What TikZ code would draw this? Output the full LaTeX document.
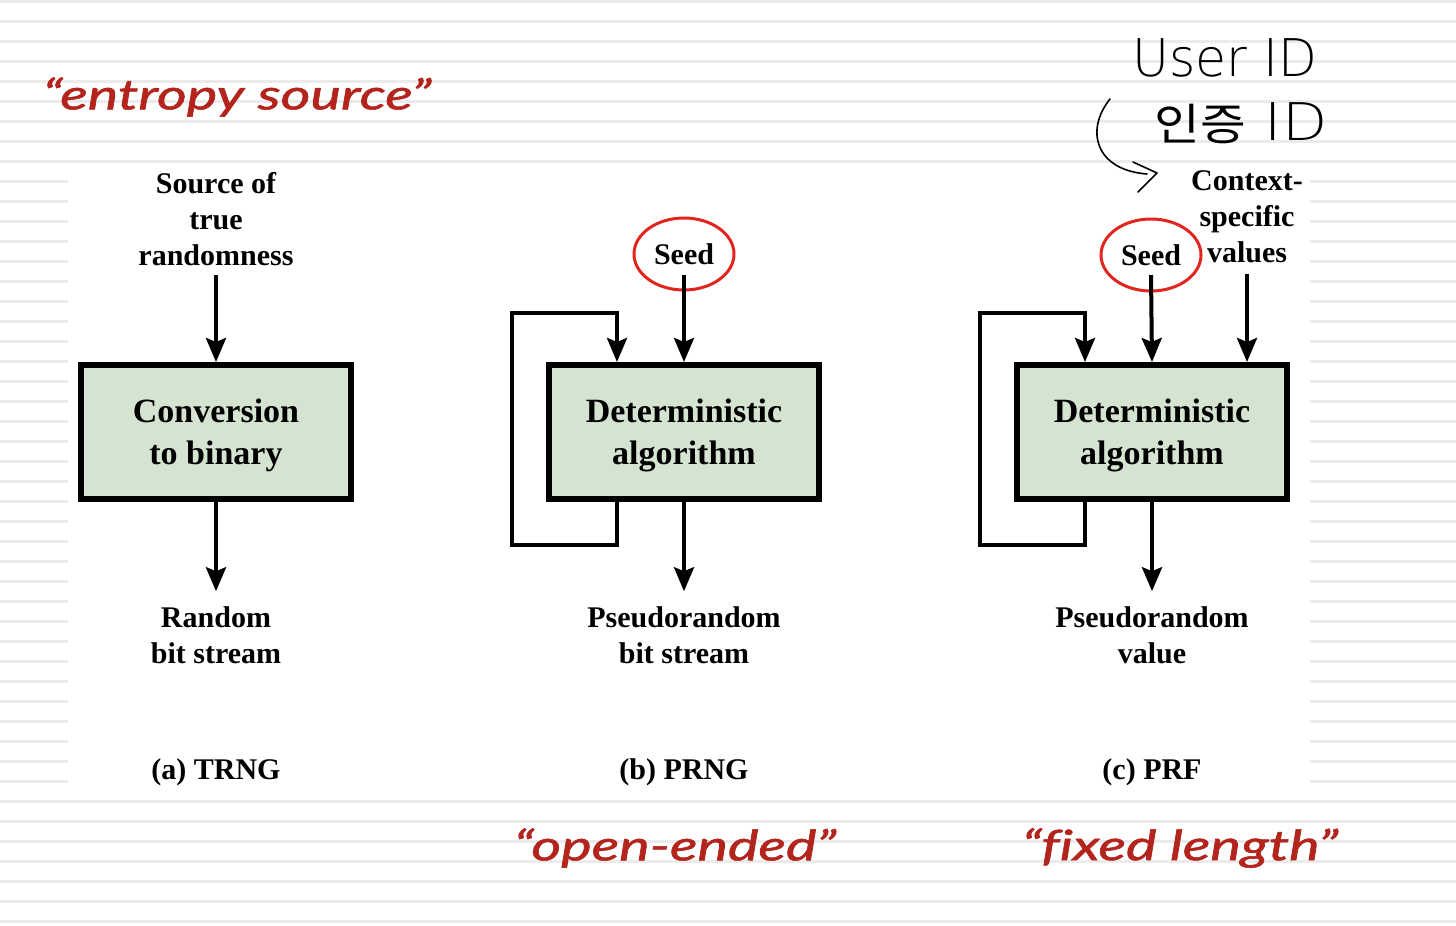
\documentclass[tikz,border=0pt]{standalone}
\usepackage{fontspec}
\setmainfont{Liberation Serif}
\newfontfamily\hand[Ligatures=NoCommon, ItalicFeatures={FakeBold=1.2}]{Lato}
\newfontfamily\kr{Noto Sans CJK KR}
\newfontfamily\thin{DejaVu Sans ExtraLight}
\usetikzlibrary{arrows.meta,shapes.geometric}
\definecolor{boxgreen}{HTML}{D5E4D0}
\definecolor{annred}{HTML}{B3241C}
\definecolor{circred}{HTML}{E0261E}
\definecolor{ruled}{HTML}{EBEBEB}
\begin{document}
\begin{tikzpicture}[x=1pt,y=-1pt,
  lbl/.style={font=\bfseries\fontsize{30}{36}\selectfont, align=center, inner sep=0pt},
  algbox/.style={draw=black, line width=6pt, fill=boxgreen, minimum width=270pt, minimum height=134pt, align=center, font=\bfseries\fontsize{34}{42}\selectfont, inner sep=0pt, text depth=1pt},
  seedoval/.style={ellipse, draw=circred, line width=3pt, minimum width=100pt, minimum height=72pt, inner sep=0pt, font=\bfseries\fontsize{30}{36}\selectfont},
  flow/.style={line width=4pt, -{Stealth[length=24pt,width=20pt,inset=4pt]}},
  note/.style={text=annred, font=\hand\itshape\fontsize{42}{48}\selectfont, inner sep=0pt},
  hw/.style={font=\thin\fontsize{52}{56}\selectfont, inner sep=0pt},
  ink/.style={line width=1.6pt, line cap=round, line join=round}
]
% background
\fill[white] (0,0) rectangle (1456,926);
\foreach \k in {0,...,46} {\fill[ruled] (0,{20*\k}) rectangle (1456,{20*\k+3});}
\fill[white] (68,167) rectangle (1310,790);
\useasboundingbox (0,0) rectangle (1456,926);

% (a) TRNG
\node[lbl] (srcA) at (216,219) {Source of\\true\\randomness};
\node[algbox] (boxA) at (216,432) {Conversion\\to binary};
\node[lbl] (outA) at (216,635) {Random\\bit stream};
\node[lbl] (capA) at (216,772) {(a) TRNG};
\draw[flow] ([yshift=-9pt]srcA.south) -- (boxA.north);
\draw[flow] (boxA.south) -- ([yshift=15pt]outA.north);

% (b) PRNG
\node[seedoval] (seedB) at (684,254) {Seed};
\node[algbox] (boxB) at (684,432) {Deterministic\\algorithm};
\node[lbl] (outB) at (684,635) {Pseudorandom\\bit stream};
\node[lbl] (capB) at (684,772) {(b) PRNG};
\coordinate (fbB) at (617,545);
\coordinate (fbBl) at (512,313);
\draw[flow] ([yshift=-21pt]seedB.center) -- (boxB.north);
\draw[flow] (boxB.south) -- ([yshift=15pt]outB.north);
\draw[flow] (boxB.south -| fbB) -- (fbB) -| (fbBl) -| (boxB.north -| fbB);

% (c) PRF
\node[seedoval] (seedC) at (1151,255) {Seed};
\node[lbl] (ctxC) at (1247,217) {Context-\\specific\\values};
\node[algbox] (boxC) at (1152,432) {Deterministic\\algorithm};
\node[lbl] (outC) at (1152,635) {Pseudorandom\\value};
\node[lbl] (capC) at (1152,772) {(c) PRF};
\coordinate (fbC) at (1085,545);
\coordinate (fbCl) at (980,313);
\draw[flow] ([yshift=-20pt]seedC.center) -- (boxC.north);
\draw[flow] ([yshift=-11pt]ctxC.south) -- (boxC.north -| ctxC);
\draw[flow] (boxC.south) -- ([yshift=15pt]outC.north);
\draw[flow] (boxC.south -| fbC) -- (fbC) -| (fbCl) -| (boxC.north -| fbC);

% red annotations
\node[note] (entropy) at (237,97) {\scalebox{1.37}[1]{“entropy source”}};
\node[note] (openended) at (675,848) {\scalebox{1.37}[1]{“open-ended”}};
\node[note] (fixedlen) at (1180,848) {\scalebox{1.37}[1]{“fixed length”}};

% handwriting
\node[hw] (userid) at (1225,58) {\scalebox{0.97}[1]{User ID}};
\node[hw] (authid) at (1241,123) {\scalebox{1.13}[1]{{\kr\fontsize{44}{48}\selectfont 인증} ID}};
\coordinate (hwA) at (1110,99);
\coordinate (hwB) at (1147,174);
\coordinate (hwTip) at (1157,173);
\draw[ink] (hwA) .. controls (1085,130) and (1095,170) .. (hwB);
\draw[ink] (1133,162) -- (hwTip) -- (1138,192);
\end{tikzpicture}
\end{document}
